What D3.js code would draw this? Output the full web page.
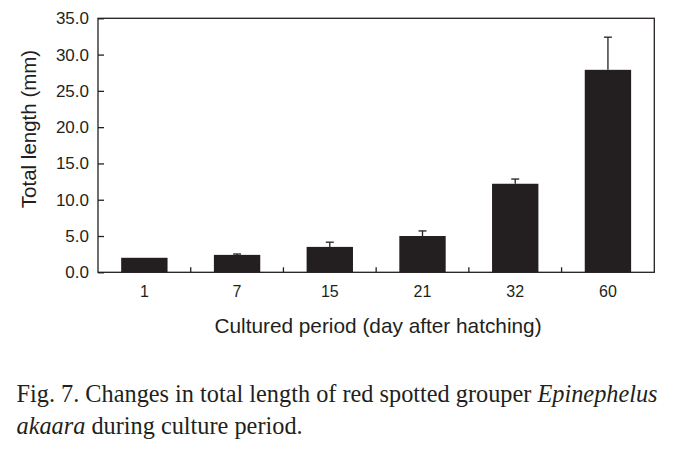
<!DOCTYPE html>
<html>
<head>
<meta charset="utf-8">
<script src="https://cdn.jsdelivr.net/npm/d3@7"></script>
<style>
  body { margin: 0; background: #fff; }
  svg { display: block; }
</style>
</head>
<body>
<svg id="chart" width="690" height="457"></svg>
<script>
const categories = ["1", "7", "15", "21", "32", "60"];
const values = [2.0, 2.4, 3.5, 5.0, 12.2, 27.9];
const errors = [0.0, 0.12, 0.65, 0.7, 0.65, 4.5];
const yTicks = [0, 5, 10, 15, 20, 25, 30, 35];

const ink = "#231f20";
const svg = d3.select("#chart");
const m = { left: 98, top: 18.3, right: 654.3, bottom: 272.3 };

const x = d3.scaleBand().domain(categories).range([m.left, m.right]).paddingInner(0.5).paddingOuter(0.25);
const xb = d3.scaleBand().domain(categories).range([m.left, m.right]);
const y = d3.scaleLinear().domain([0, 35]).range([m.bottom, m.top]);

// bars
svg.append("g").selectAll("rect").data(values).join("rect")
  .attr("x", (d, i) => x(categories[i]))
  .attr("y", d => y(d))
  .attr("width", x.bandwidth())
  .attr("height", d => y(0) - y(d))
  .attr("fill", ink);

// error bars
const eg = svg.append("g").attr("stroke", ink).attr("stroke-width", 1.3);
values.forEach((v, i) => {
  if (errors[i] <= 0) return;
  const cx = x(categories[i]) + x.bandwidth() / 2;
  eg.append("line").attr("x1", cx).attr("x2", cx).attr("y1", y(v)).attr("y2", y(v + errors[i]));
  eg.append("line").attr("x1", cx - 4).attr("x2", cx + 4).attr("y1", y(v + errors[i])).attr("y2", y(v + errors[i]));
});

// y axis ticks (inside) + labels
const yAxis = d3.axisLeft(y).tickValues(yTicks).tickSizeInner(-6).tickSizeOuter(0)
  .tickPadding(9).tickFormat(d3.format(".1f"));
const ya = svg.append("g").attr("transform", `translate(${m.left},0)`).call(yAxis);
ya.select(".domain").remove();
ya.selectAll("line").attr("stroke", ink).attr("stroke-width", 1.3);
ya.selectAll("text").attr("font-family", "Liberation Sans, Arial, sans-serif").attr("font-size", 17).attr("fill", ink);

// x axis labels and boundary ticks
const xAxis = d3.axisBottom(x).tickSize(0).tickPadding(13);
const xa = svg.append("g").attr("transform", `translate(0,${m.bottom})`).call(xAxis);
xa.select(".domain").remove();
xa.selectAll("text").attr("font-family", "Liberation Sans, Arial, sans-serif").attr("font-size", 16).attr("fill", ink);

svg.append("g").selectAll("line").data(categories.slice(1)).join("line")
  .attr("x1", d => xb(d)).attr("x2", d => xb(d))
  .attr("y1", m.bottom).attr("y2", m.bottom - 5)
  .attr("stroke", ink).attr("stroke-width", 1.3);

// frame
svg.append("rect").attr("x", m.left).attr("y", m.top)
  .attr("width", m.right - m.left).attr("height", m.bottom - m.top)
  .attr("fill", "none").attr("stroke", ink).attr("stroke-width", 1.3);

// axis titles
svg.append("text").attr("transform", "translate(35.5,129) rotate(-90)")
  .attr("text-anchor", "middle").attr("font-family", "Liberation Sans, Arial, sans-serif")
  .attr("font-size", 20.5).attr("fill", ink).text("Total length (mm)");

svg.append("text").attr("x", 378).attr("y", 333).attr("text-anchor", "middle")
  .attr("font-family", "Liberation Sans, Arial, sans-serif").attr("font-size", 20.8).attr("fill", ink)
  .text("Cultured period (day after hatching)");

// caption
const cap = svg.append("g").attr("font-family", "Liberation Serif, Times New Roman, serif")
  .attr("font-size", 24.3).attr("fill", ink);
const l1 = cap.append("text").attr("x", 16.5).attr("y", 401.5);
l1.append("tspan").text("Fig. 7. Changes in total length of red spotted grouper ");
l1.append("tspan").attr("font-style", "italic").text("Epinephelus");
const l2 = cap.append("text").attr("x", 16.5).attr("y", 433.5);
l2.append("tspan").attr("font-style", "italic").text("akaara");
l2.append("tspan").text(" during culture period.");
</script>
</body>
</html>
